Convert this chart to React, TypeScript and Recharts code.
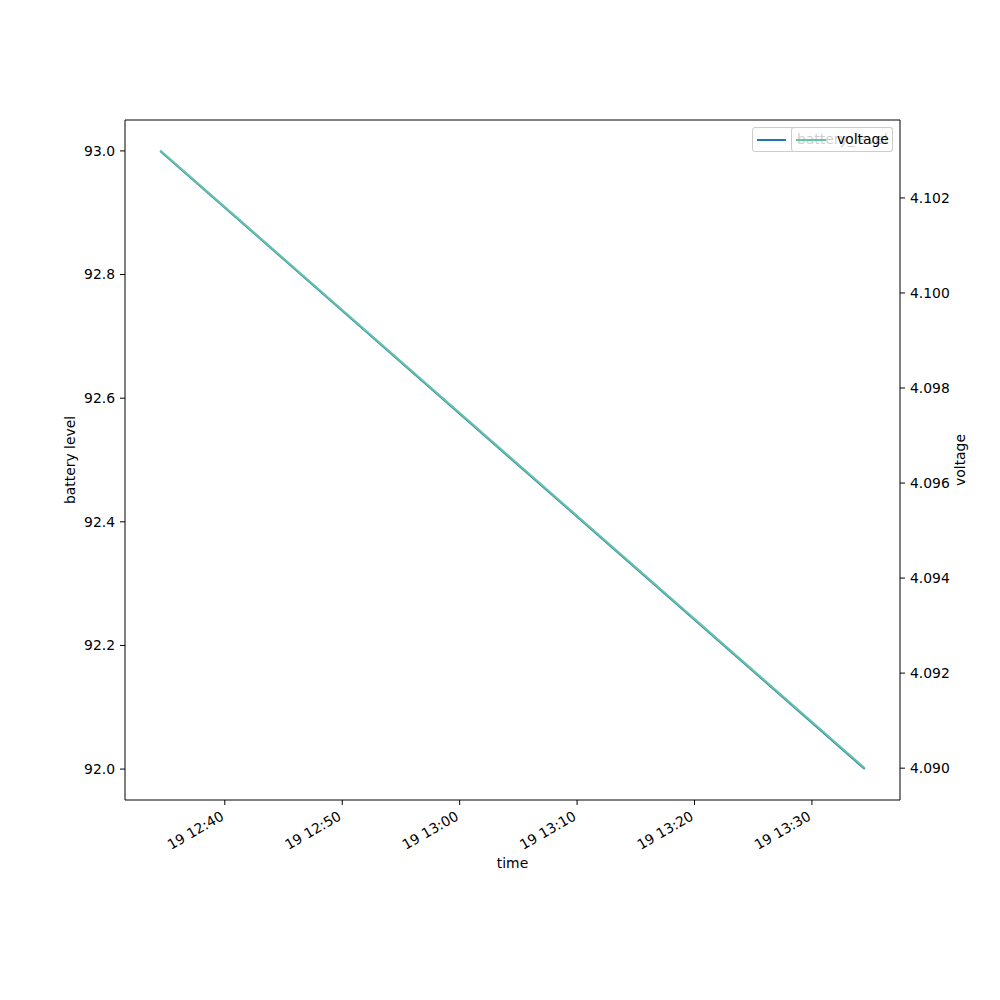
import React from 'react';
import { LineChart, Line, XAxis, YAxis } from 'recharts';

// time in minutes after midnight on day 19
const times = [754.5, 814.5];
const batteryLevel = [93.0, 92.0];
const voltage = [4.103, 4.09];
const timeTicks = [760, 770, 780, 790, 800, 810];
const batteryTicks = [92.0, 92.2, 92.4, 92.6, 92.8, 93.0];
const voltageTicks = [4.09, 4.092, 4.094, 4.096, 4.098, 4.1, 4.102];

const data = times.map((t, i) => ({ t, battery_level: batteryLevel[i], voltage: voltage[i] }));

const FONT = 'DejaVu Sans, sans-serif';
const FS = 13.9;

const fmtTime = (m: number) => {
  const h = Math.floor(m / 60);
  const mm = Math.round(m - h * 60);
  return `19 ${String(h).padStart(2, '0')}:${String(mm).padStart(2, '0')}`;
};

const XTick = (props: any) => {
  const { x, y, payload } = props;
  const by = y + 9;
  return (
    <text x={x} y={by} textAnchor="end" fontFamily={FONT} fontSize={FS} fill="#000" transform={`rotate(-30, ${x}, ${by})`}>
      {fmtTime(payload.value)}
    </text>
  );
};

const LeftTick = (props: any) => {
  const { x, y, payload } = props;
  return (
    <text x={x} y={y} dy="0.35em" textAnchor="end" fontFamily={FONT} fontSize={FS} fill="#000">
      {Number(payload.value).toFixed(1)}
    </text>
  );
};

const RightTick = (props: any) => {
  const { x, y, payload } = props;
  return (
    <text x={x} y={y} dy="0.35em" textAnchor="start" fontFamily={FONT} fontSize={FS} fill="#000">
      {Number(payload.value).toFixed(3)}
    </text>
  );
};

const AxisTitle = (text: string, kind: 'left' | 'right' | 'bottom') => (props: any) => {
  const vb = props.viewBox || {};
  let x = 0, y = 0, rot = 0;
  if (kind === 'left') { x = vb.x + 5; y = vb.y + vb.height / 2; rot = -90; }
  else if (kind === 'right') { x = vb.x + vb.width; y = vb.y + vb.height / 2; rot = -90; }
  else { x = vb.x + vb.width / 2; y = vb.y + 63; }
  return (
    <text x={x} y={y} textAnchor="middle" dominantBaseline="central" fontFamily={FONT} fontSize={FS} fill="#000"
      transform={rot ? `rotate(${rot}, ${x}, ${y})` : undefined}>
      {text}
    </text>
  );
};

const legendBox: React.CSSProperties = {
  position: 'absolute', top: 127, height: 25, boxSizing: 'border-box',
  border: '1px solid #cccccc', borderRadius: 3, background: 'rgba(255,255,255,0.8)',
  fontFamily: FONT, fontSize: FS, color: '#000',
};

export default function App() {
  return (
    <div style={{ position: 'absolute', left: 0, top: 0, width: 1000, height: 1000, background: '#fff' }}>
      <LineChart width={1000} height={1000} data={data} margin={{ top: 119, left: 65, right: 40, bottom: 140 }}>
        <XAxis xAxisId="top" orientation="top" dataKey="t" type="number" domain={[751.5, 817.5]} height={1}
          ticks={timeTicks} tick={false} tickLine={false} axisLine={{ stroke: '#000', strokeWidth: 1 }} />
        <XAxis dataKey="t" type="number" domain={[751.5, 817.5]} ticks={timeTicks} height={60}
          tick={<XTick />} tickSize={5} tickMargin={5} interval={0}
          axisLine={{ stroke: '#000', strokeWidth: 1 }} tickLine={{ stroke: '#000' }}
          label={{ content: AxisTitle('time', 'bottom') }} />
        <YAxis yAxisId="left" orientation="left" type="number" domain={[91.95, 93.05]} ticks={batteryTicks}
          width={60} tick={<LeftTick />} tickSize={5} tickMargin={5} interval={0}
          axisLine={{ stroke: '#000', strokeWidth: 1 }} tickLine={{ stroke: '#000' }}
          label={{ content: AxisTitle('battery level', 'left') }} />
        <YAxis yAxisId="right" orientation="right" type="number" domain={[4.08933, 4.10364]} ticks={voltageTicks}
          width={60} tick={<RightTick />} tickSize={5} tickMargin={5} interval={0}
          axisLine={{ stroke: '#000', strokeWidth: 1 }} tickLine={{ stroke: '#000' }}
          label={{ content: AxisTitle('voltage', 'right') }} />
        <Line xAxisId={0} yAxisId="left" dataKey="battery_level" stroke="#1f77b4" strokeWidth={2} dot={false} isAnimationActive={false} />
        <Line xAxisId={0} yAxisId="right" dataKey="voltage" stroke="#66c2a5" strokeWidth={2} dot={false} isAnimationActive={false} />
      </LineChart>
      <div style={{ ...legendBox, left: 752, width: 141 }}>
        <div style={{ position: 'absolute', left: 4, top: 11, width: 29, height: 2, background: '#1f77b4' }} />
        <div style={{ position: 'absolute', left: 44, top: 2, lineHeight: '19px' }}>battery_level</div>
      </div>
      <div style={{ ...legendBox, left: 791, width: 102 }}>
        <div style={{ position: 'absolute', left: 4, top: 11, width: 30, height: 2, background: '#66c2a5' }} />
        <div style={{ position: 'absolute', left: 45, top: 2, lineHeight: '19px' }}>voltage</div>
      </div>
    </div>
  );
}
